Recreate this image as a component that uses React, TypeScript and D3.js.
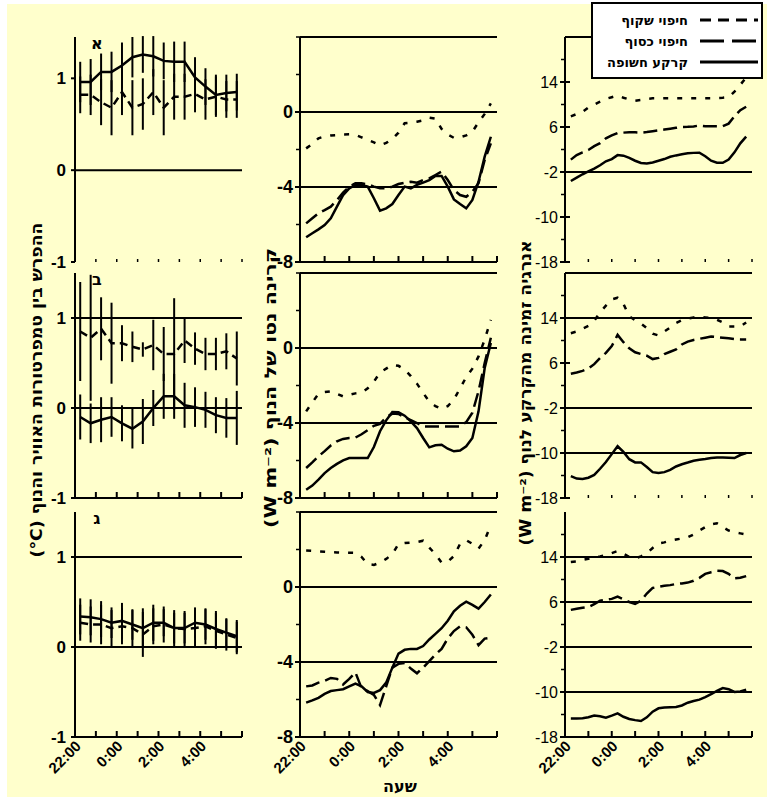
import React from 'react';
import * as d3 from 'd3';

// hours after 22:00
const halfHours = [0.25, 0.75, 1.25, 1.75, 2.25, 2.75, 3.25, 3.75, 4.25, 4.75, 5.25, 5.75, 6.25, 6.75, 7.25, 7.75];
const quarterHours = [
  0.25, 0.5, 0.75, 1, 1.25, 1.5, 1.75, 2, 2.25, 2.5, 2.75, 3, 3.25, 3.5, 3.75, 4,
  4.25, 4.5, 4.75, 5, 5.25, 5.5, 5.75, 6, 6.25, 6.5, 6.75, 7, 7.25, 7.5, 7.75,
];
const hourTicks = [0, 1, 2, 3, 4, 5, 6, 7, 8];
const hourLabels = ['22:00', '', '0:00', '', '2:00', '', '4:00', '', ''];

// --- left column: air minus leaf temperature (°C), with error bars
const tempSolid1 = [0.96, 0.96, 1.07, 1.07, 1.14, 1.23, 1.26, 1.24, 1.19, 1.18, 1.18, 1.01, 0.91, 0.82, 0.84, 0.85];
const tempSolidErr1 = [0.22, 0.25, 0.2, 0.22, 0.25, 0.22, 0.2, 0.22, 0.2, 0.22, 0.22, 0.22, 0.2, 0.22, 0.2, 0.2];
const tempDash1 = [0.82, 0.82, 0.74, 0.68, 0.85, 0.68, 0.72, 0.85, 0.68, 0.8, 0.8, 0.83, 0.77, 0.8, 0.77, 0.77];
const tempDashErr1 = [0.2, 0.22, 0.25, 0.3, 0.25, 0.3, 0.28, 0.25, 0.3, 0.25, 0.25, 0.2, 0.22, 0.22, 0.2, 0.2];

const tempSolid2 = [-0.1, -0.17, -0.13, -0.1, -0.17, -0.23, -0.15, 0, 0.13, 0.13, 0.03, 0.01, -0.02, -0.08, -0.11, -0.11];
const tempSolidErr2 = [0.25, 0.22, 0.25, 0.22, 0.2, 0.22, 0.25, 0.2, 0.25, 0.25, 0.25, 0.22, 0.2, 0.2, 0.22, 0.3];
const tempDash2 = [0.85, 0.78, 0.88, 0.72, 0.72, 0.68, 0.65, 0.7, 0.6, 0.6, 0.75, 0.66, 0.6, 0.6, 0.63, 0.55];
const tempDashErr2 = [0.55, 0.7, 0.35, 0.45, 0.2, 0.17, 0.08, 0.28, 0.3, 0.62, 0.25, 0.18, 0.18, 0.18, 0.2, 0.3];

const tempSolid3 = [0.34, 0.33, 0.31, 0.27, 0.29, 0.25, 0.21, 0.27, 0.27, 0.21, 0.21, 0.27, 0.25, 0.2, 0.16, 0.12];
const tempSolidErr3 = [0.2, 0.2, 0.2, 0.17, 0.2, 0.17, 0.22, 0.2, 0.15, 0.17, 0.17, 0.17, 0.17, 0.2, 0.15, 0.18];
const tempDash3 = [0.27, 0.25, 0.25, 0.21, 0.23, 0.21, 0.14, 0.23, 0.25, 0.21, 0.2, 0.21, 0.23, 0.18, 0.14, 0.1];
const tempDashErr3 = [0.2, 0.2, 0.22, 0.2, 0.2, 0.2, 0.25, 0.2, 0.2, 0.2, 0.2, 0.2, 0.2, 0.2, 0.18, 0.18];

// --- middle column: net radiation (W m-2)
const radClear1 = [-1.94, -1.7, -1.4, -1.3, -1.25, -1.23, -1.2, -1.19, -1.22, -1.35, -1.49, -1.62, -1.78, -1.65, -1.45, -1.1, -0.6, -0.57, -0.52, -0.45, -0.3, -0.35, -0.9, -1.2, -1.38, -1.35, -1.25, -1.05, -0.55, -0.1, 0.46];
const radSilver1 = [-5.94, -5.67, -5.4, -5.23, -5.05, -4.7, -4.3, -3.98, -3.8, -3.8, -3.86, -3.98, -4.07, -4.07, -3.98, -3.84, -3.77, -3.72, -3.77, -3.63, -3.54, -3.36, -3.18, -3.63, -4.16, -4.43, -4.52, -4.25, -3.8, -2.56, -1.67];
const radBare1 = [-6.68, -6.47, -6.26, -6.03, -5.67, -5.05, -4.43, -4.07, -3.89, -3.89, -3.98, -4.6, -5.26, -5.14, -4.91, -4.43, -3.98, -4.07, -3.89, -3.77, -3.63, -3.41, -3.41, -3.98, -4.66, -4.91, -5.14, -4.69, -3.72, -2.38, -1.32];

const radClear2 = [-3.38, -2.9, -2.45, -2.35, -2.31, -2.45, -2.58, -2.5, -2.42, -2.38, -2.15, -1.8, -1.3, -1.1, -0.9, -0.95, -1.15, -1.5, -1.9, -2.4, -2.85, -3.1, -3.25, -3.1, -2.75, -2.15, -1.55, -1.1, -0.45, 0.45, 1.5];
const radSilver2 = [-6.4, -6.1, -5.78, -5.5, -5.2, -4.98, -4.85, -4.8, -4.78, -4.6, -4.38, -4.15, -4.05, -3.7, -3.5, -3.52, -3.7, -3.85, -4.0, -4.18, -4.18, -4.18, -4.18, -4.18, -4.18, -4.18, -3.95, -3.45, -2.3, -0.8, 0.55];
const radBare2 = [-7.56, -7.34, -7.02, -6.67, -6.4, -6.18, -5.99, -5.87, -5.87, -5.87, -5.87, -5.28, -4.44, -3.86, -3.41, -3.43, -3.61, -3.91, -4.27, -4.8, -5.3, -5.19, -5.16, -5.37, -5.51, -5.47, -5.24, -4.8, -3.38, -1.07, 0.27];

const radClear3 = [1.95, 1.93, 1.9, 1.88, 1.86, 1.84, 1.83, 1.83, 1.82, 1.6, 1.22, 1.18, 1.3, 1.5, 1.75, 2.3, 2.35, 2.37, 2.4, 2.47, 2.1, 1.75, 1.3, 1.35, 1.65, 2.3, 2.5, 2.3, 2.05, 2.5, 3.3];
const radSilver3 = [-5.3, -5.25, -5.1, -5.0, -4.85, -4.9, -5.2, -4.9, -4.55, -5.4, -5.55, -5.75, -6.3, -5.3, -4.3, -4.1, -4.05, -4.35, -4.6, -4.3, -3.95, -3.6, -3.3, -2.75, -2.35, -2.1, -2.15, -2.55, -3.1, -2.75, -2.7];
const radBare3 = [-6.17, -6.05, -5.91, -5.7, -5.55, -5.5, -5.45, -5.3, -5.15, -5.3, -5.6, -5.65, -5.5, -5.1, -4.3, -3.55, -3.35, -3.3, -3.3, -3.15, -2.8, -2.5, -2.2, -1.8, -1.3, -1.0, -0.78, -0.95, -1.15, -0.8, -0.4];

// --- right column: energy available from the soil to the canopy (W m-2)
const soilClear1 = [7.9, 8.3, 8.7, 9.47, 10.0, 10.5, 11.0, 11.3, 11.58, 11.2, 10.9, 10.68, 10.8, 11.0, 11.1, 11.1, 11.1, 11.1, 11.1, 11.1, 11.1, 11.1, 11.1, 11.1, 11.1, 11.15, 11.2, 11.3, 12.3, 13.5, 14.8];
const soilSilver1 = [0.2, 1.0, 1.5, 1.92, 2.6, 3.13, 4.0, 4.5, 4.94, 5.0, 5.06, 5.05, 5.0, 5.1, 5.24, 5.4, 5.55, 5.7, 5.85, 6.0, 6.03, 6.1, 6.27, 6.15, 6.15, 6.15, 6.15, 6.6, 7.9, 9.0, 9.6];
const soilBare1 = [-3.6, -3.0, -2.4, -1.9, -1.4, -0.8, -0.1, 0.3, 1.0, 0.9, 0.5, 0.0, -0.4, -0.5, -0.3, 0.0, 0.3, 0.7, 0.95, 1.15, 1.32, 1.4, 1.44, 0.8, 0.0, -0.35, -0.37, 0.2, 1.5, 3.1, 4.3];

const soilClear2 = [11.3, 11.6, 12.1, 12.6, 13.5, 15.0, 16.2, 17.3, 17.6, 16.5, 14.3, 13.6, 13.0, 12.2, 11.2, 10.9, 11.6, 12.3, 13.1, 13.6, 13.9, 14.1, 14.18, 14.1, 14.0, 13.7, 13.2, 12.5, 12.5, 12.5, 13.2];
const soilSilver2 = [4.1, 4.3, 4.6, 5.0, 5.8, 6.9, 7.8, 9.0, 11.0, 9.7, 8.6, 7.9, 7.6, 7.3, 6.7, 6.9, 7.6, 8.0, 8.4, 9.3, 9.8, 10.1, 10.3, 10.5, 10.7, 10.6, 10.49, 10.4, 10.25, 10.2, 10.2];
const soilBare2 = [-14.1, -14.55, -14.6, -14.4, -13.9, -12.8, -11.6, -10.2, -8.8, -9.8, -11.1, -11.67, -11.67, -12.5, -13.4, -13.57, -13.4, -13.0, -12.4, -12.0, -11.7, -11.37, -11.2, -11.07, -10.9, -10.8, -10.78, -10.85, -10.9, -10.36, -10.0];

const soilClear3 = [13.1, 13.2, 13.5, 13.7, 13.9, 14.1, 14.35, 14.7, 15.06, 14.6, 14.0, 13.77, 14.1, 14.65, 15.6, 16.4, 16.6, 16.9, 17.1, 17.3, 17.5, 18.0, 18.7, 19.3, 19.8, 20.0, 19.3, 18.7, 18.4, 18.2, 18.0];
const soilSilver3 = [4.6, 4.8, 4.96, 5.1, 5.6, 6.25, 6.4, 6.55, 6.96, 6.5, 6.0, 5.67, 6.2, 7.5, 8.5, 8.7, 8.9, 9.0, 9.2, 9.3, 9.45, 9.77, 10.3, 11.0, 11.3, 11.54, 11.5, 11.0, 10.2, 10.3, 10.6];
const soilBare3 = [-14.7, -14.7, -14.65, -14.5, -14.2, -14.3, -14.55, -14.2, -13.8, -14.4, -14.8, -15.0, -15.15, -14.5, -13.5, -12.9, -12.75, -12.7, -12.65, -12.4, -11.9, -11.6, -11.35, -10.9, -10.4, -9.8, -9.3, -9.5, -10.0, -9.9, -9.6];

const legendLabels = ['חיפוי שקוף', 'חיפוי כסוף', 'קרקע חשופה'];
const panelLetters = ['א', 'ב', 'ג'];

const leftTicks = [1, 0, -1];
const midTicks = [0, -4, -8];
const midMinor = [4, 2, -2, -6];
const rightTicks = [14, 6, -2, -10, -18];
const rightMinor = [18, 10, 2, -6, -14];

const rows = [
  { top: 37, bottom: 262 },
  { top: 273, bottom: 498 },
  { top: 512, bottom: 737 },
];

const FONT = '"Liberation Sans", Arial, sans-serif';
const HEB = '"DejaVu Sans", "Noto Sans", sans-serif';
const dashClear = '5,9';
const dashSilver = '14,6';

const xLeft = d3.scaleLinear().domain([0, 8]).range([75, 242]);
const xMid = d3.scaleLinear().domain([0, 8]).range([300, 497]);
const xRight = d3.scaleLinear().domain([0, 8]).range([565, 752]);

const XTickLabels = ({ x, y }: { x: d3.ScaleLinear<number, number>; y: number }) => (
  <g>
    {hourTicks.map((h, i) =>
      hourLabels[i] ? (
        <text
          key={h}
          transform={`translate(${x(h) + 7},${y + 10}) rotate(-45)`}
          textAnchor="end"
          fontFamily={FONT}
          fontWeight="bold"
          fontSize={15}
        >
          {hourLabels[i]}
        </text>
      ) : null
    )}
  </g>
);

const BottomAxis = ({ x, y, line }: { x: d3.ScaleLinear<number, number>; y: number; line: boolean }) => (
  <g stroke="#000">
    {line && <line x1={x(0) - 1} x2={x(8)} y1={y} y2={y} strokeWidth={2} />}
    {hourTicks.map(h => (
      <line key={h} x1={x(h)} x2={x(h)} y1={y} y2={y - (line ? 6 : 3)} strokeWidth={line ? 2 : 1.5} />
    ))}
  </g>
);

const LeftPanel = ({ idx, solid, solidErr, dash, dashErr, grid, axisLine }: any) => {
  const r = rows[idx];
  const top = idx === 0 ? 1.45 : 1.5;
  const y = d3.scaleLinear().domain([-1, top]).range([r.bottom, r.top]);
  const ln = d3.line<number>().x((_, i) => xLeft(halfHours[i])).y(d => y(d));
  const bars = (vals: number[], errs: number[]) =>
    vals.map((v, i) => (
      <line key={i} x1={xLeft(halfHours[i])} x2={xLeft(halfHours[i])} y1={y(v + errs[i])} y2={y(v - errs[i])} stroke="#000" strokeWidth={2} />
    ));
  return (
    <g>
      <line x1={xLeft(0)} x2={xLeft(0)} y1={r.top} y2={r.bottom} stroke="#000" strokeWidth={2} />
      {grid.map((g: number) => (
        <line key={g} x1={xLeft(0)} x2={xLeft(8)} y1={y(g)} y2={y(g)} stroke="#000" strokeWidth={2} />
      ))}
      {leftTicks.map(t => (
        <g key={t}>
          <line x1={xLeft(0) - 4} x2={xLeft(0)} y1={y(t)} y2={y(t)} stroke="#000" strokeWidth={2} />
          <text x={xLeft(0) - 9} y={y(t) + 6} textAnchor="end" fontFamily={FONT} fontWeight="bold" fontSize={17}>
            {t}
          </text>
        </g>
      ))}
      <BottomAxis x={xLeft} y={r.bottom} line={axisLine} />
      {bars(dash, dashErr)}
      {bars(solid, solidErr)}
      <path d={ln(dash) || ''} fill="none" stroke="#000" strokeWidth={2.5} strokeDasharray="8,5" />
      <path d={ln(solid) || ''} fill="none" stroke="#000" strokeWidth={2.5} />
      <text x={xLeft(1.05)} y={r.top + 12} textAnchor="middle" fontFamily={HEB} fontWeight="bold" fontSize={16}>
        {panelLetters[idx]}
      </text>
    </g>
  );
};

const SeriesPanel = ({ idx, x, domain, clear, silver, bare, grid, ticks, minor, axisLine, labelFont }: any) => {
  const r = rows[idx];
  const y = d3.scaleLinear().domain(domain).range([r.bottom, r.top]);
  const ln = d3.line<number>().x((_, i) => x(quarterHours[i])).y(d => y(d));
  return (
    <g>
      <line x1={x(0)} x2={x(0)} y1={r.top} y2={r.bottom} stroke="#000" strokeWidth={2} />
      {grid.map((g: number) => (
        <line key={g} x1={x(0)} x2={x(8)} y1={y(g)} y2={y(g)} stroke="#000" strokeWidth={2} />
      ))}
      {minor.map((t: number) => (
        <line key={t} x1={x(0) - 4} x2={x(0)} y1={y(t)} y2={y(t)} stroke="#000" strokeWidth={1.5} />
      ))}
      {ticks.map((t: number) => (
        <g key={t}>
          <line x1={x(0) - 5} x2={x(0) + 5} y1={y(t)} y2={y(t)} stroke="#000" strokeWidth={2} />
          <text x={x(0) - 7} y={y(t) + 6} textAnchor="end" fontFamily={labelFont.family} fontWeight={labelFont.weight} fontSize={labelFont.size}>
            {t}
          </text>
        </g>
      ))}
      <BottomAxis x={x} y={r.bottom} line={axisLine} />
      <path d={ln(clear) || ''} fill="none" stroke="#000" strokeWidth={2.5} strokeDasharray={dashClear} />
      <path d={ln(silver) || ''} fill="none" stroke="#000" strokeWidth={2.5} strokeDasharray={dashSilver} />
      <path d={ln(bare) || ''} fill="none" stroke="#000" strokeWidth={2.5} />
    </g>
  );
};

const midFont = { family: '"Liberation Sans Narrow", "Liberation Sans", Arial, sans-serif', weight: 'bold', size: 18 };
const rightFont = { family: FONT, weight: 'normal', size: 16 };

export default function App() {
  const leftData = [
    [tempSolid1, tempSolidErr1, tempDash1, tempDashErr1, [0], false],
    [tempSolid2, tempSolidErr2, tempDash2, tempDashErr2, [1, 0], true],
    [tempSolid3, tempSolidErr3, tempDash3, tempDashErr3, [1, 0], true],
  ];
  const midData = [
    [radClear1, radSilver1, radBare1],
    [radClear2, radSilver2, radBare2],
    [radClear3, radSilver3, radBare3],
  ];
  const rightData = [
    [soilClear1, soilSilver1, soilBare1, [22, -2], false],
    [soilClear2, soilSilver2, soilBare2, [22, 14, -2, -10], false],
    [soilClear3, soilSilver3, soilBare3, [14, 6, -2, -10], true],
  ];
  const legendDash = ['11,7', '24,8', ''];

  return (
    <svg width={771} height={802} style={{ position: 'absolute', left: 0, top: 0 }}>
      <rect width={771} height={802} fill="#fff" />
      <rect x={7} y={4} width={760} height={793} fill="#ffffcc" />

      {leftData.map((d: any, i) => (
        <LeftPanel key={i} idx={i} solid={d[0]} solidErr={d[1]} dash={d[2]} dashErr={d[3]} grid={d[4]} axisLine={d[5]} />
      ))}
      {midData.map((d, i) => (
        <SeriesPanel
          key={i}
          idx={i}
          x={xMid}
          domain={[-8, 4]}
          clear={d[0]}
          silver={d[1]}
          bare={d[2]}
          grid={[4, 0, -4]}
          ticks={midTicks}
          minor={midMinor}
          axisLine={true}
          labelFont={midFont}
        />
      ))}
      {rightData.map((d: any, i) => (
        <SeriesPanel
          key={i}
          idx={i}
          x={xRight}
          domain={[-18, 22]}
          clear={d[0]}
          silver={d[1]}
          bare={d[2]}
          grid={d[3]}
          ticks={rightTicks}
          minor={rightMinor}
          axisLine={d[4]}
          labelFont={rightFont}
        />
      ))}

      <XTickLabels x={xLeft} y={rows[2].bottom} />
      <XTickLabels x={xMid} y={rows[2].bottom} />
      <XTickLabels x={xRight} y={rows[2].bottom} />

      <text x={400} y={792} textAnchor="middle" fontFamily={HEB} fontWeight="bold" fontSize={16}>
        שעה
      </text>

      {/* axis titles */}
      <text transform="translate(42,390) rotate(-90)" textAnchor="middle" fontFamily={HEB} fontWeight="bold" fontSize={16} textLength={335} lengthAdjust="spacingAndGlyphs">
        (°C) ההפרש בין טמפרטורות האוויר והנוף
      </text>
      <text transform="translate(276,388) rotate(-90)" textAnchor="middle" fontFamily={HEB} fontWeight="bold" fontSize={16} textLength={280} lengthAdjust="spacingAndGlyphs">
        (W m⁻²) קרינה נטו של הנוף
      </text>
      <text transform="translate(531,393) rotate(-90)" textAnchor="middle" fontFamily={HEB} fontWeight="bold" fontSize={16} textLength={305} lengthAdjust="spacingAndGlyphs">
        (W m⁻²) אנרגיה זמינה מהקרקע לנוף
      </text>

      {/* legend */}
      <g>
        <rect x={592} y={3} width={170} height={75} fill="#fff" stroke="#000" strokeWidth={2} />
        {legendLabels.map((l, i) => (
          <g key={l}>
            <text x={688} y={25 + i * 21} textAnchor="end" fontFamily={HEB} fontWeight="bold" fontSize={13}>
              {l}
            </text>
            <line x1={700} x2={758} y1={20 + i * 21} y2={20 + i * 21} stroke="#000" strokeWidth={3} strokeDasharray={legendDash[i] || undefined} />
          </g>
        ))}
      </g>
    </svg>
  );
}
